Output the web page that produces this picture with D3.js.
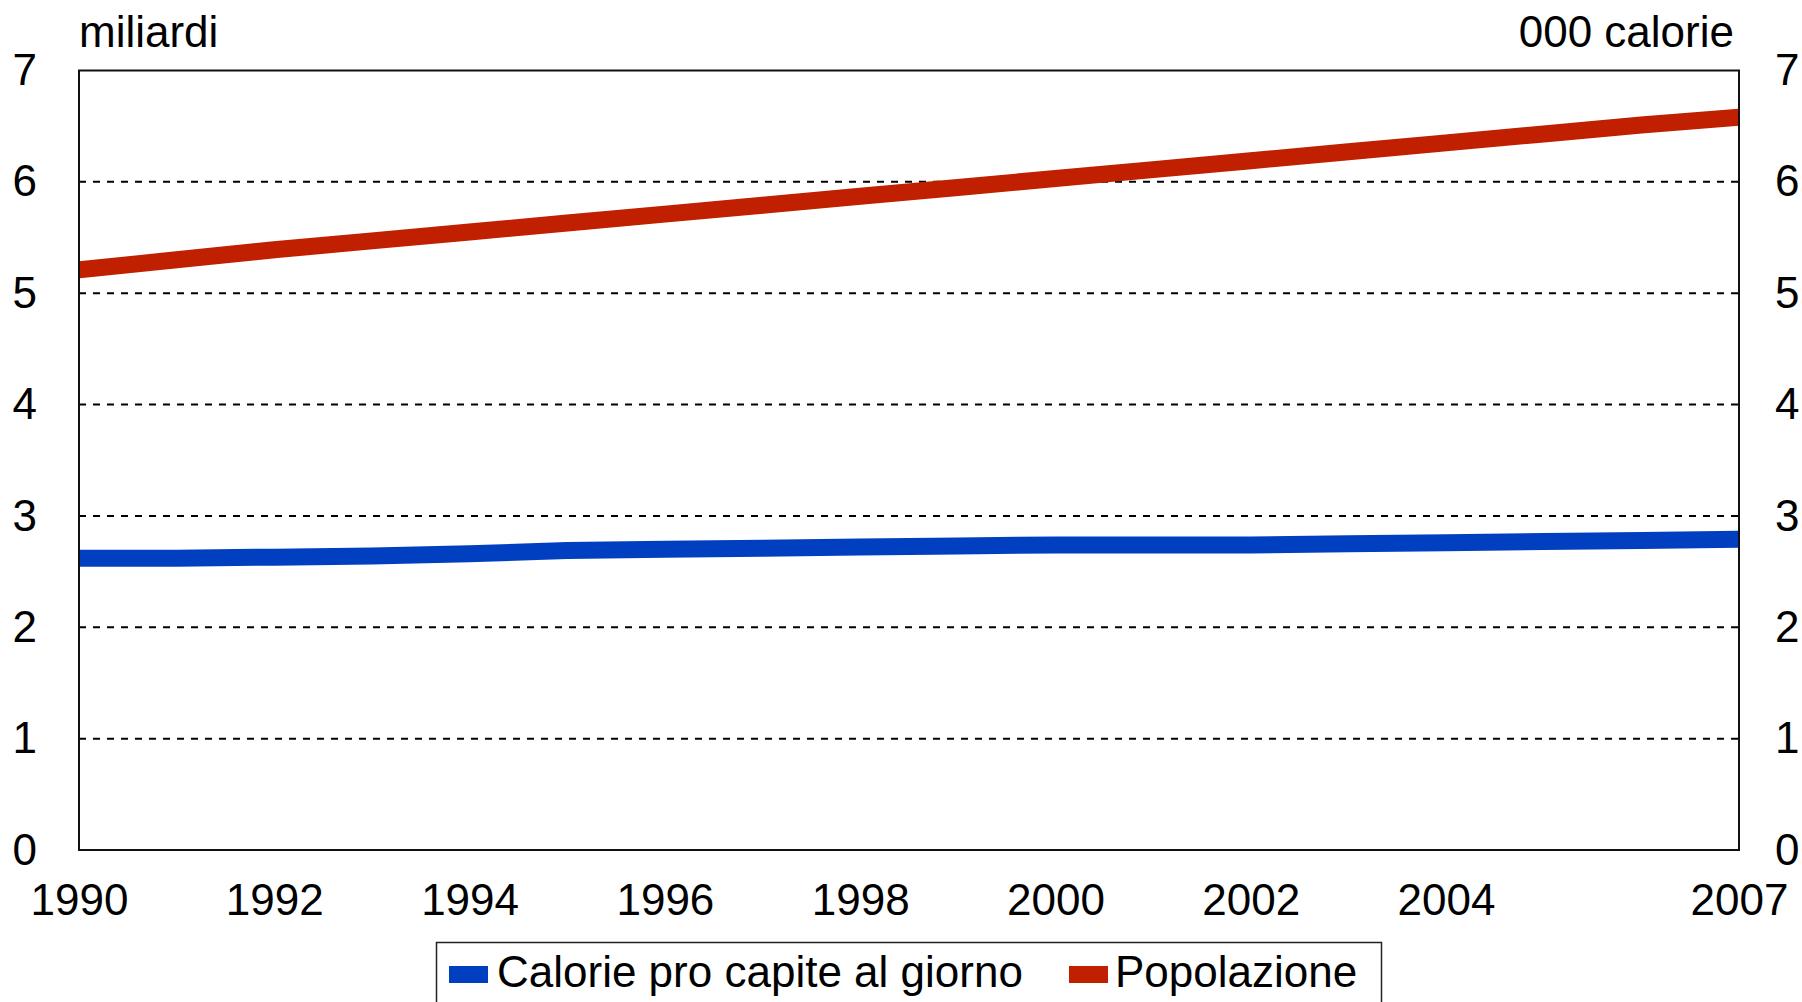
<!DOCTYPE html>
<html>
<head>
<meta charset="utf-8">
<script src="https://cdn.jsdelivr.net/npm/d3@7"></script>
<style>
  html, body { margin: 0; padding: 0; background: #fff; overflow: hidden; }
  svg text { font-family: "Liberation Sans", Arial, sans-serif; fill: #000; }
</style>
</head>
<body>
<svg id="chart" width="1802" height="1002"></svg>
<script>
// Years on the horizontal axis
const years = [1990, 1991, 1992, 1993, 1994, 1995, 1996, 1997, 1998, 1999,
               2000, 2001, 2002, 2003, 2004, 2005, 2006, 2007];

// Daily calories per head, thousands (right axis)
const calories = [2.62, 2.62, 2.63, 2.64, 2.66, 2.69, 2.70, 2.71, 2.72, 2.73,
                  2.74, 2.74, 2.74, 2.75, 2.76, 2.77, 2.78, 2.79];

// World population, billions (left axis)
const population = [5.21, 5.30, 5.39, 5.47, 5.55, 5.63, 5.71, 5.79, 5.87, 5.95,
                    6.03, 6.11, 6.19, 6.27, 6.35, 6.43, 6.51, 6.58];

const yTicks = [0, 1, 2, 3, 4, 5, 6, 7];
const xTickYears = [1990, 1992, 1994, 1996, 1998, 2000, 2002, 2004, 2007];
const seriesNames = ["Calorie pro capite al giorno", "Popolazione"];
const seriesColors = ["#0040C0", "#C02000"];
const unitLeft = "miliardi";
const unitRight = "000 calorie";

const svg = d3.select("#chart");
const plot = { left: 79, right: 1739, top: 70.5, bottom: 850 };
const fontSize = 44;

const x = d3.scaleLinear().domain([1990, 2007]).range([plot.left, plot.right]);
const yLeft = d3.scaleLinear().domain([0, 7]).range([plot.bottom, plot.top]);
const yRight = d3.scaleLinear().domain([0, 7]).range([plot.bottom, plot.top]);

// Dashed horizontal gridlines
svg.append("g")
  .selectAll("line")
  .data(yTicks.filter(t => t > 0 && t < 7))
  .join("line")
  .attr("x1", plot.left).attr("x2", plot.right)
  .attr("y1", d => yLeft(d)).attr("y2", d => yLeft(d))
  .attr("stroke", "#000")
  .attr("stroke-width", 2)
  .attr("stroke-dasharray", "7,7");

// Series lines, clipped to the plot frame
svg.append("clipPath").attr("id", "plotClip")
  .append("rect")
  .attr("x", plot.left).attr("y", plot.top)
  .attr("width", plot.right - plot.left).attr("height", plot.bottom - plot.top);

const linesG = svg.append("g").attr("clip-path", "url(#plotClip)");

const calLine = d3.line().x((d, i) => x(years[i])).y(d => yRight(d));
const popLine = d3.line().x((d, i) => x(years[i])).y(d => yLeft(d));

linesG.append("path")
  .attr("d", calLine(calories))
  .attr("fill", "none")
  .attr("stroke", seriesColors[0])
  .attr("stroke-width", 17)
  .attr("stroke-linejoin", "round");

linesG.append("path")
  .attr("d", popLine(population))
  .attr("fill", "none")
  .attr("stroke", seriesColors[1])
  .attr("stroke-width", 17)
  .attr("stroke-linejoin", "round");

// Plot frame
svg.append("rect")
  .attr("x", plot.left).attr("y", plot.top)
  .attr("width", plot.right - plot.left).attr("height", plot.bottom - plot.top)
  .attr("fill", "none")
  .attr("stroke", "#111")
  .attr("stroke-width", 2);

// Axes
function styleAxis(g) {
  g.select(".domain").remove();
  g.selectAll("text").attr("font-size", fontSize)
    .attr("font-family", "Liberation Sans, Arial, sans-serif").attr("fill", "#000");
}

svg.append("g")
  .attr("transform", `translate(${plot.left},0)`)
  .call(d3.axisLeft(yLeft).tickValues(yTicks).tickSize(0).tickPadding(42).tickFormat(d3.format("d")))
  .call(styleAxis);

svg.append("g")
  .attr("transform", `translate(${plot.right},0)`)
  .call(d3.axisRight(yRight).tickValues(yTicks).tickSize(0).tickPadding(36).tickFormat(d3.format("d")))
  .call(styleAxis);

svg.append("g")
  .attr("transform", `translate(0,${plot.bottom})`)
  .call(d3.axisBottom(x).tickValues(xTickYears).tickSize(0).tickPadding(34).tickFormat(d3.format("d")))
  .call(styleAxis);

// Unit labels
svg.append("text")
  .attr("x", plot.left).attr("y", 47)
  .attr("font-size", fontSize)
  .text(unitLeft);

svg.append("text")
  .attr("x", 1734).attr("y", 47)
  .attr("text-anchor", "end")
  .attr("font-size", fontSize)
  .text(unitRight);

// Legend
const legend = svg.append("g");
legend.append("rect")
  .attr("x", 436.5).attr("y", 942.5)
  .attr("width", 945).attr("height", 90)
  .attr("fill", "#fff")
  .attr("stroke", "#222")
  .attr("stroke-width", 1.5);

const legendItems = [
  { name: seriesNames[0], color: seriesColors[0], sx: 449, tx: 497 },
  { name: seriesNames[1], color: seriesColors[1], sx: 1069, tx: 1115 }
];

legend.selectAll("rect.swatch")
  .data(legendItems)
  .join("rect")
  .attr("class", "swatch")
  .attr("x", d => d.sx).attr("y", 966)
  .attr("width", 39).attr("height", 17)
  .attr("fill", d => d.color);

legend.selectAll("text")
  .data(legendItems)
  .join("text")
  .attr("x", d => d.tx).attr("y", 987)
  .attr("font-size", fontSize)
  .text(d => d.name);
</script>
</body>
</html>
